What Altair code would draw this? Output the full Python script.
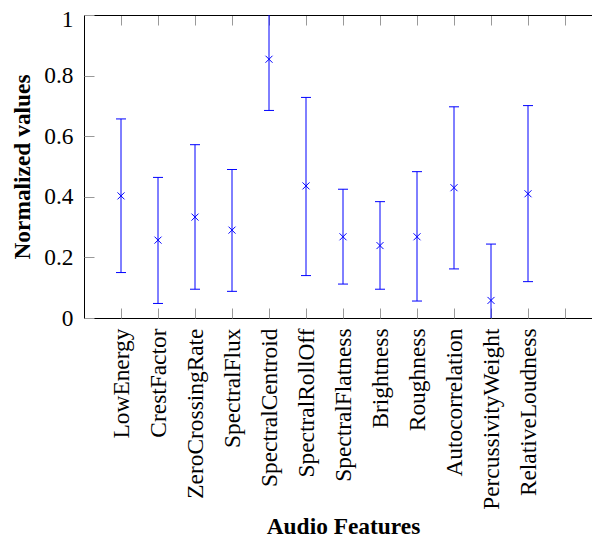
import altair as alt
import pandas as pd

features = ["LowEnergy", "CrestFactor", "ZeroCrossingRate", "SpectralFlux",
            "SpectralCentroid", "SpectralRollOff", "SpectralFlatness", "Brightness",
            "Roughness", "Autocorrelation", "PercussivityWeight", "RelativeLoudness"]
means = [0.403, 0.257, 0.333, 0.290, 0.854, 0.436, 0.268, 0.239, 0.268, 0.430, 0.058, 0.410]
upper = [0.657, 0.464, 0.572, 0.490, 1.023, 0.728, 0.425, 0.384, 0.483, 0.697, 0.244, 0.701]
lower = [0.150, 0.048, 0.095, 0.088, 0.685, 0.140, 0.112, 0.095, 0.056, 0.162, -0.128, 0.120]
positions = list(range(1, len(features) + 1))
x_ticks = list(range(1, 14))
y_ticks = [0, 0.2, 0.4, 0.6, 0.8, 1]

df = pd.DataFrame({"pos": positions, "feature": features, "mean": means,
                   "upper": upper, "lower": lower})

W, H = 508, 303      # view size (svg stays inside the window)
RW = 518             # full axis length (right border falls past the window edge)
FONT = "Liberation Serif"
FS = 23.4
BLUE = "#0000ff"
TICKC = "#999999"

xs = alt.Scale(domain=[0, 14], range=[0, RW], nice=False, zero=False)
ys = alt.Scale(domain=[0, 1], nice=False, zero=False)

labels = [""] + features + ["", ""]
label_expr = "[" + ",".join("'%s'" % s for s in labels) + "][datum.value]"

x_main = alt.Axis(orient="bottom", values=x_ticks, labelExpr=label_expr, labelAngle=270,
                  labelAlign="right", labelBaseline="middle", labelPadding=10, labelLimit=0,
                  ticks=False, tickSize=0, domain=True, domainColor="black", domainWidth=1,
                  labelFont=FONT, labelFontSize=FS, labelColor="black",
                  labelOverlap=False, labelFlush=False, grid=False,
                  titleFont=FONT, titleFontSize=FS, titleFontWeight="bold", titleColor="black",
                  titleY=215, titleBaseline="alphabetic")
y_main = alt.Axis(orient="left", values=y_ticks, format="~g", labelPadding=11,
                  labelOffset={"condition": {"test": "datum.value == 1", "value": 4}, "value": 0},
                  ticks=False, tickSize=0, domain=True, domainColor="black", domainWidth=1,
                  labelFont=FONT, labelFontSize=FS, labelColor="black",
                  labelOverlap=False, labelFlush=False, grid=False,
                  titleFont=FONT, titleFontSize=FS, titleFontWeight="bold", titleColor="black",
                  titleX=-55, titleBaseline="alphabetic")

x_in_bottom = alt.Axis(orient="top", offset=-H, values=x_ticks, labels=False, ticks=True,
                       tickSize=10, tickColor=TICKC, domain=False, grid=False)
y_in_left = alt.Axis(orient="right", offset=-W, values=y_ticks, labels=False, ticks=True,
                     tickSize=10, tickColor=TICKC, domain=False, grid=False)
x_in_top = alt.Axis(orient="bottom", offset=-H, values=x_ticks, labels=False, ticks=True,
                    tickSize=10, tickColor=TICKC, domain=True, domainColor="black",
                    domainWidth=1, grid=False)
y_in_right = alt.Axis(orient="left", offset=-RW, values=y_ticks, labels=False, ticks=True,
                      tickSize=10, tickColor=TICKC, domain=True, domainColor="black",
                      domainWidth=1, grid=False)

base = alt.Chart(df)

bars = base.mark_rule(color=BLUE, strokeWidth=1, clip=True).encode(
    x=alt.X("pos:Q", scale=xs, axis=x_main, title="Audio Features"),
    y=alt.Y("lower:Q", scale=ys, axis=y_main, title="Normalized values"),
    y2="upper:Q",
)
caps_up = base.mark_tick(color=BLUE, orient="horizontal", size=10, thickness=1,
                         clip=True, opacity=1).encode(
    x=alt.X("pos:Q", scale=xs, axis=x_in_bottom, title=None),
    y=alt.Y("upper:Q", scale=ys, axis=y_in_left, title=None),
)
caps_lo = base.mark_tick(color=BLUE, orient="horizontal", size=10, thickness=1,
                         clip=True, opacity=1).encode(
    x=alt.X("pos:Q", scale=xs, axis=x_in_top, title=None),
    y=alt.Y("lower:Q", scale=ys, axis=y_in_right, title=None),
)
marks = base.mark_point(shape="M-1,-1L1,1M-1,1L1,-1", size=49, filled=False,
                        stroke=BLUE, strokeWidth=1, opacity=1).encode(
    x=alt.X("pos:Q", scale=xs, axis=None),
    y=alt.Y("mean:Q", scale=ys, axis=None),
)

chart = alt.layer(bars, caps_up, caps_lo, marks).resolve_axis(
    x="independent", y="independent"
).properties(
    width=W, height=H,
    autosize=alt.AutoSizeParams(type="none"),
    padding={"left": 76, "top": 7, "right": 0, "bottom": 220},
    background="white",
).configure_view(stroke="transparent")

chart.save("out.html", embed_options={"renderer": "svg", "actions": False})
